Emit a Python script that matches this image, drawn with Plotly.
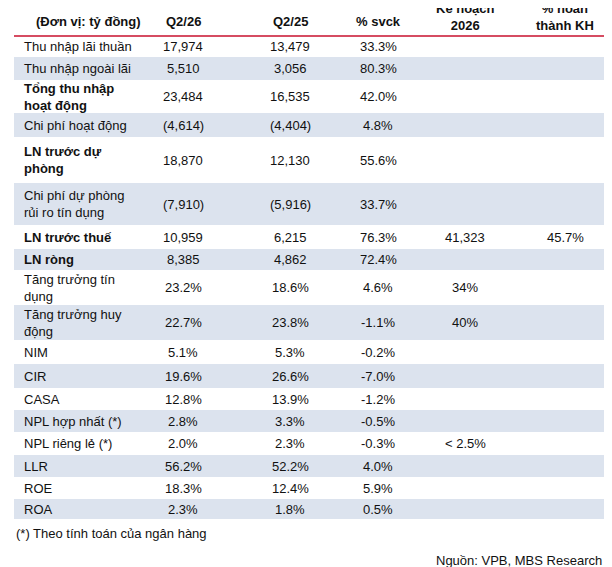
import plotly.graph_objects as go

headers = ["(Đơn vị: tỷ đồng)", "Q2/26", "Q2/25", "% svck", "Kế hoạch<br>2026", "% hoàn<br>thành KH"]
labels = ["Thu nhập lãi thuần", "Thu nhập ngoài lãi", "<b>Tổng thu nhập<br>hoạt động</b>",
          "Chi phí hoạt động", "<b>LN trước dự<br>phòng</b>", "Chi phí dự phòng<br>rủi ro tín dụng",
          "<b>LN trước thuế</b>", "<b>LN ròng</b>", "Tăng trưởng tín<br>dụng", "Tăng trưởng huy<br>động",
          "NIM", "CIR", "CASA", "NPL hợp nhất (*)", "NPL riêng lẻ (*)", "LLR", "ROE", "ROA"]
q2_26 = ["17,974", "5,510", "23,484", "(4,614)", "18,870", "(7,910)", "10,959", "8,385", "23.2%",
         "22.7%", "5.1%", "19.6%", "12.8%", "2.8%", "2.0%", "56.2%", "18.3%", "2.3%"]
q2_25 = ["13,479", "3,056", "16,535", "(4,404)", "12,130", "(5,916)", "6,215", "4,862", "18.6%",
         "23.8%", "5.3%", "26.6%", "13.9%", "3.3%", "2.3%", "52.2%", "12.4%", "1.8%"]
svck = ["33.3%", "80.3%", "42.0%", "4.8%", "55.6%", "33.7%", "76.3%", "72.4%", "4.6%",
        "-1.1%", "-0.2%", "-7.0%", "-1.2%", "-0.5%", "-0.3%", "4.0%", "5.9%", "0.5%"]
plan = ["", "", "", "", "", "", "41,323", "", "34%", "40%", "", "", "", "", "< 2.5%", "", "", ""]
done = ["", "", "", "", "", "", "45.7%", "", "", "", "", "", "", "", "", "", "", ""]

# row boundaries (px, top-down)
edges = [36, 57, 80, 113, 137, 183, 225, 249, 270, 305, 340, 364, 388, 410, 432, 455, 477, 499, 519]
col_x = [183, 290, 378, 465, 565]

fig = go.Figure()
fig.add_trace(go.Scatter(x=[0, 612], y=[0, 567], mode="markers", marker=dict(opacity=0), hoverinfo="skip"))

shapes = []
ann = []
font = dict(family="Liberation Sans, Arial", size=13, color="#111")
for i in range(len(labels)):
    top, bot = edges[i], edges[i + 1]
    if i % 2 == 1:
        shapes.append(dict(type="rect", x0=14, x1=612, y0=top, y1=bot, fillcolor="#dce3ee",
                           line=dict(width=0), layer="below"))
    yc = (top + bot) / 2
    ann.append(dict(x=22, y=yc, text=labels[i], xanchor="left", yanchor="middle", align="left",
                    showarrow=False, font=font))
    for x, col in zip(col_x, [q2_26, q2_25, svck, plan, done]):
        if col[i]:
            ann.append(dict(x=x, y=yc, text=col[i], xanchor="center", yanchor="middle",
                            showarrow=False, font=font))

hfont = dict(family="Liberation Sans, Arial", size=13, color="#111")
hx = [88] + col_x
for j, h in enumerate(headers):
    yc = 21 if "<br>" not in h else 17
    ann.append(dict(x=hx[j], y=yc, text="<b>" + h + "</b>", xanchor="center", yanchor="middle",
                    showarrow=False, font=hfont))
shapes.append(dict(type="line", x0=14, x1=612, y0=36, y1=36, line=dict(color="#c8102e", width=1.5)))

ann.append(dict(x=14, y=533, text="(*) Theo tính toán của ngân hàng", xanchor="left", yanchor="middle",
                showarrow=False, font=font))
ann.append(dict(x=604, y=560, text="Nguồn: VPB, MBS Research", xanchor="right", yanchor="middle",
                showarrow=False, font=font))

# page body has an 8px margin, so shift the view to compensate
fig.update_layout(width=612, height=567, margin=dict(l=0, r=0, t=0, b=0),
                  plot_bgcolor="white", paper_bgcolor="white", showlegend=False,
                  shapes=shapes, annotations=ann,
                  xaxis=dict(range=[8, 620], visible=False, fixedrange=True),
                  yaxis=dict(range=[575, 8], visible=False, fixedrange=True))
fig.write_html("out.html")
